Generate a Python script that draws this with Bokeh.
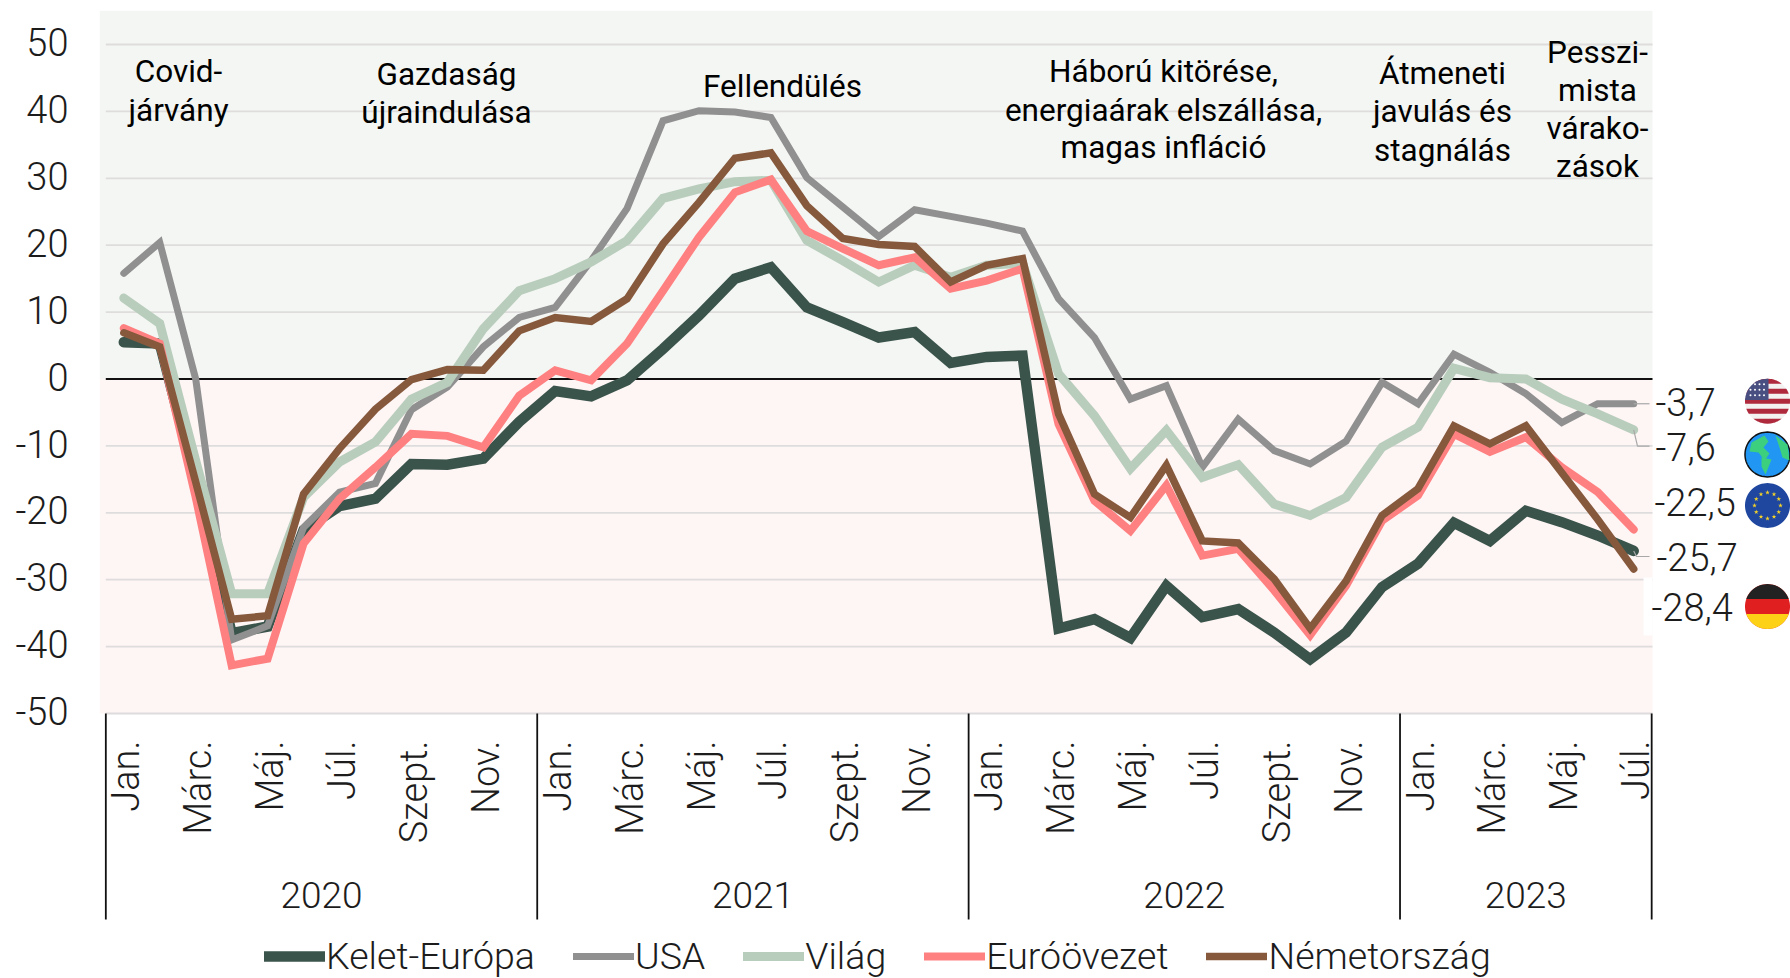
import math
from bokeh.embed import file_html
from bokeh.resources import INLINE
from bokeh.plotting import figure
from bokeh.core.properties import value
from bokeh.models import FixedTicker, Legend, LegendItem

kelet = [5.5,5.3,-15.5,-38.0,-37.0,-22.6,-19.0,-17.9,-12.7,-12.8,-11.9,-6.4,
         -1.8,-2.6,-0.2,4.5,9.5,15.0,16.7,10.7,8.5,6.2,7.0,2.4,
         3.3,3.5,-37.3,-35.9,-38.7,-30.9,-35.6,-34.4,-37.9,-41.9,-37.9,-31.1,
         -27.6,-21.5,-24.2,-19.7,-21.4,-23.4,-25.7]
usa = [15.8,20.4,0.0,-39.0,-36.9,-22.2,-16.9,-15.6,-4.6,-1.2,4.8,9.2,
       10.7,17.7,25.5,38.6,40.1,39.9,39.1,30.1,25.7,21.3,25.3,24.3,
       23.3,22.1,12.0,6.2,-3.0,-1.0,-13.2,-6.0,-10.7,-12.7,-9.3,-0.5,
       -3.7,3.7,1.0,-2.2,-6.5,-3.7,-3.7]
vilag = [12.1,8.3,-12.2,-32.1,-32.1,-17.7,-12.4,-9.4,-3.0,-0.5,7.5,13.2,
         15.0,17.5,20.7,27.0,28.4,29.5,29.7,20.7,17.7,14.5,17.0,15.2,
         17.0,17.3,0.8,-5.5,-13.4,-7.7,-14.7,-12.8,-18.7,-20.4,-17.7,-10.2,
         -7.2,1.6,0.2,0.0,-3.0,-5.2,-7.6]
euro = [7.6,5.3,-17.7,-42.8,-41.8,-24.6,-17.9,-13.2,-8.2,-8.5,-10.2,-2.5,
        1.3,-0.2,5.3,13.2,21.2,27.9,29.8,22.1,19.5,17.0,18.2,13.5,
        14.7,16.5,-6.7,-18.2,-22.7,-15.9,-26.4,-25.4,-31.6,-38.3,-30.9,-21.2,
        -17.4,-8.2,-10.9,-8.7,-13.2,-16.9,-22.5]
nemet = [6.9,4.8,-15.4,-35.9,-35.4,-17.2,-10.4,-4.5,-0.1,1.4,1.3,7.2,
         9.2,8.6,12.0,20.2,26.4,33.0,33.8,25.9,21.0,20.1,19.8,14.5,
         17.0,18.0,-5.2,-17.2,-20.7,-12.9,-24.2,-24.5,-29.9,-37.3,-30.2,-20.4,
         -16.4,-7.0,-9.7,-7.0,-14.0,-21.0,-28.4]

series_names = ["Kelet-Európa", "USA", "Világ", "Euróövezet", "Németország"]
series_colors = ["#3a544b", "#909090", "#b9cdbc", "#ff8080", "#86593d"]
series_widths = [10.5, 7, 9, 8, 7.5]

y_ticks = [-50,-40,-30,-20,-10,0,10,20,30,40,50]
y_labels = ["-50","-40","-30","-20","-10","0","10","20","30","40","50"]
month_names = ["Jan.","Márc.","Máj.","Júl.","Szept.","Nov."]
years = ["2020","2021","2022","2023"]
year_months = [12,12,12,7]

phases = [
    ["Covid-", "járvány"],
    ["Gazdaság", "újraindulása"],
    ["Fellendülés"],
    ["Háború kitörése,", "energiaárak elszállása,", "magas infláció"],
    ["Átmeneti", "javulás és", "stagnálás"],
    ["Pesszi-", "mista", "várako-", "zások"],
]
end_labels = ["-3,7", "-7,6", "-22,5", "-25,7", "-28,4"]

LIGHT = "Roboto Light"
REG = "Roboto"
TXT = "#1c1c1c"

# Layout: reference pixels <-> data
PX0, PXM = 123.3, 35.95   # Jan 2020 pixel, pixels per month
PY0, PYU = 378.5, 6.69    # zero line pixel, pixels per unit
def dx(px): return (px - PX0) / PXM
def dy(py): return (PY0 - py) / PYU

p = figure(width=1790, height=978, output_backend="svg", toolbar_location=None,
           x_range=(dx(99), dx(1790)), y_range=(dy(978), dy(10)),
           min_border_left=99, min_border_right=0, min_border_top=10, min_border_bottom=0)
p.outline_line_color = None
p.background_fill_color = "white"
p.xgrid.visible = False
p.ygrid.visible = False

# backgrounds
x_l, x_r = dx(99), dx(1652)
p.quad(left=[x_l], right=[x_r], bottom=[0], top=[dy(10)], fill_color="#f4f6f3", line_color=None)
p.quad(left=[x_l], right=[x_r], bottom=[-50], top=[0], fill_color="#fef5f5", line_color=None)

# gridlines
xa, xb = dx(105.3), dx(1652)
gt = [t for t in y_ticks if t != 0]
p.segment(x0=[xa]*len(gt), x1=[xb]*len(gt), y0=gt, y1=gt, line_color="#dedcdc", line_width=1.8)
p.quad(left=[dx(1643)], right=[dx(1652)], bottom=[dy(635)], top=[dy(577)], fill_color="white", line_color=None)
p.segment(x0=[xa], x1=[xb], y0=[0], y1=[0], line_color="#111111", line_width=1.8)

# series
xs = list(range(len(kelet)))
items = []
for name, ser, col, w in zip(series_names, [kelet, usa, vilag, euro, nemet], series_colors, series_widths):
    r = p.line(xs, ser, line_color=col, line_width=w, line_join="miter", line_cap="round")
    items.append(LegendItem(label=name, renderers=[r]))

# leader lines
leader_c = "#a8a8a8"
p.line([42, dx(1649)], [usa[-1], usa[-1]], line_color=leader_c, line_width=1.2)
p.line([42, dx(1637), dx(1649)], [vilag[-1], dy(445.7), dy(445.7)], line_color=leader_c, line_width=1.2)
p.line([42, dx(1636), dx(1649)], [kelet[-1], dy(556), dy(556)], line_color=leader_c, line_width=1.2)

# phase annotations
phase_cx = [178, 446, 782, 1163, 1442, 1597]
phase_cy = [[71,110],[74,112],[86],[71,110,147],[73,111,150],[52,90,128,166]]
tx, ty, tt = [], [], []
for lines, cx, cys in zip(phases, phase_cx, phase_cy):
    for s, cy in zip(lines, cys):
        tx.append(dx(cx)); ty.append(dy(cy)); tt.append(s)
p.text(tx, ty, text=tt, text_font=value(REG), text_font_size="31.5px", text_color="black",
       text_align="center", text_baseline="middle")

# end value labels
lab_x = [1655, 1655, 1654, 1656, 1651]
lab_y = [401, 446, 501, 556, 606]
p.text([dx(a) for a in lab_x], [dy(b) for b in lab_y], text=end_labels,
       text_font=value(LIGHT), text_font_size="38px", text_color=TXT,
       text_align="left", text_baseline="middle")

# flags
FX, FR = 1767, 22.5
def band(cy, y0, y1, n=24, cx=FX, r=FR):
    """polygon of the part of a disc between pixel rows y0 and y1"""
    left, right = [], []
    for i in range(n + 1):
        y = y0 + (y1 - y0) * i / n
        h = math.sqrt(max(r*r - (y-cy)**2, 0))
        left.append(cx - h); right.append(cx + h)
    ys = [y0 + (y1 - y0) * i / n for i in range(n + 1)]
    return [dx(a) for a in left + right[::-1]], [dy(b) for b in ys + ys[::-1]]
def disc(cy, color, line=None):
    X, Y = band(cy, cy-FR, cy+FR, 60)
    p.patch(X, Y, fill_color=color, line_color=line, line_width=1.5)
def poly(points, color):
    p.patch([dx(a) for a,_ in points], [dy(b) for _,b in points], fill_color=color, line_color=None)

# USA
cy = 400.7
disc(cy, "#f4f1f1")
rows = 9
for i in range(rows):
    if i % 2 == 0:
        a = cy - FR + i * 2*FR/rows
        X, Y = band(cy, a, a + 2*FR/rows)
        p.patch(X, Y, fill_color="#b02a3e", line_color=None)
pts = []
for i in range(25):
    y = cy - FR + i*(FR*0.95)/24
    pts.append((FX - math.sqrt(max(FR*FR-(y-cy)**2, 0)), y))
poly(pts + [(FX+1, cy-0.05*FR), (FX+1, cy-FR)], "#4a4f82")
p.scatter([dx(FX-17+4.5*i) for i in range(4) for _ in range(3)],
          [dy(cy-17+5.5*j) for _ in range(4) for j in range(3)],
          marker="circle", size=2, fill_color="white", line_color=None)
# world
cy = 454
disc(cy, "#2196f3", "#111111")
poly([(FX-16,cy-12),(FX-3,cy-19),(FX+1,cy-13),(FX-4,cy-7),(FX+2,cy-1),(FX-3,cy+6),(FX-9,cy-2),(FX-18,cy-3)], "#3ccf7e")
poly([(FX-6,cy+3),(FX+4,cy+5),(FX-2,cy+20),(FX-6,cy+12)], "#3ccf7e")
poly([(FX+8,cy-19),(FX+20,cy-10),(FX+22,cy+6),(FX+15,cy+3),(FX+12,cy-7)], "#3ccf7e")
# EU
cy = 505
disc(cy, "#1f479f")
ang = [i*math.pi/6 for i in range(12)]
p.scatter([dx(FX+13*math.cos(a)) for a in ang], [dy(cy+13*math.sin(a)) for a in ang],
          marker="star", size=5, fill_color="#f5d327", line_color=None)
# Germany
cy = 606
disc(cy, "#e02020")
X, Y = band(cy, cy-FR, cy-FR/3); p.patch(X, Y, fill_color="#222222", line_color=None)
X, Y = band(cy, cy+FR/3, cy+FR); p.patch(X, Y, fill_color="#fdd116", line_color=None)

# axes: label anchors are nudged to sit where the reference's labels sit
Y_NUDGE = 0.35
X_NUDGE = 0.07
y_pos = [t + Y_NUDGE for t in y_ticks]
ya = p.yaxis[0]
ya.ticker = FixedTicker(ticks=y_pos)
ya.major_label_overrides = dict(zip(y_pos, y_labels))
ya.axis_line_color = None
ya.major_tick_line_color = None
ya.minor_tick_line_color = None
ya.major_label_standoff = 25
ya.major_label_text_font = LIGHT
ya.major_label_text_font_size = "38px"
ya.major_label_text_color = TXT

month_ticks, month_labs = [], []
i = 0
for n in year_months:
    for m in range(0, n, 2):
        month_ticks.append(i + m + X_NUDGE); month_labs.append(month_names[m // 2])
    i += n
xa_ = p.xaxis[0]
xa_.ticker = FixedTicker(ticks=month_ticks)
xa_.major_label_overrides = dict(zip(month_ticks, month_labs))
xa_.major_label_orientation = math.pi / 2
xa_.fixed_location = dy(713)
xa_.axis_line_color = None
xa_.major_tick_line_color = None
xa_.minor_tick_line_color = None
xa_.major_label_standoff = 21
xa_.major_label_text_font = LIGHT
xa_.major_label_text_font_size = "38px"
xa_.major_label_text_color = TXT

# year brackets
edges = [-0.5]
for n in year_months:
    edges.append(edges[-1] + n)
p.segment(x0=edges, x1=edges, y0=[dy(713)]*len(edges), y1=[dy(919)]*len(edges),
          line_color="#111111", line_width=1.8)
centers = [(a+b)/2 for a, b in zip(edges[:-1], edges[1:])]
p.text(centers, [dy(894.5)]*len(centers), text=years, text_font=value(LIGHT), text_font_size="37px",
       text_color=TXT, text_align="center", text_baseline="middle")

legend = Legend(items=items, orientation="horizontal", location=(263-98, 0),
                border_line_color=None, background_fill_alpha=0, padding=0, margin=0,
                spacing=38, label_standoff=1, glyph_width=61, glyph_height=30,
                label_text_font=LIGHT, label_text_font_size="37.5px", label_text_color=TXT,
                label_height=36)
p.add_layout(legend, "center")

open("out.html", "w").write(file_html(p, INLINE))
